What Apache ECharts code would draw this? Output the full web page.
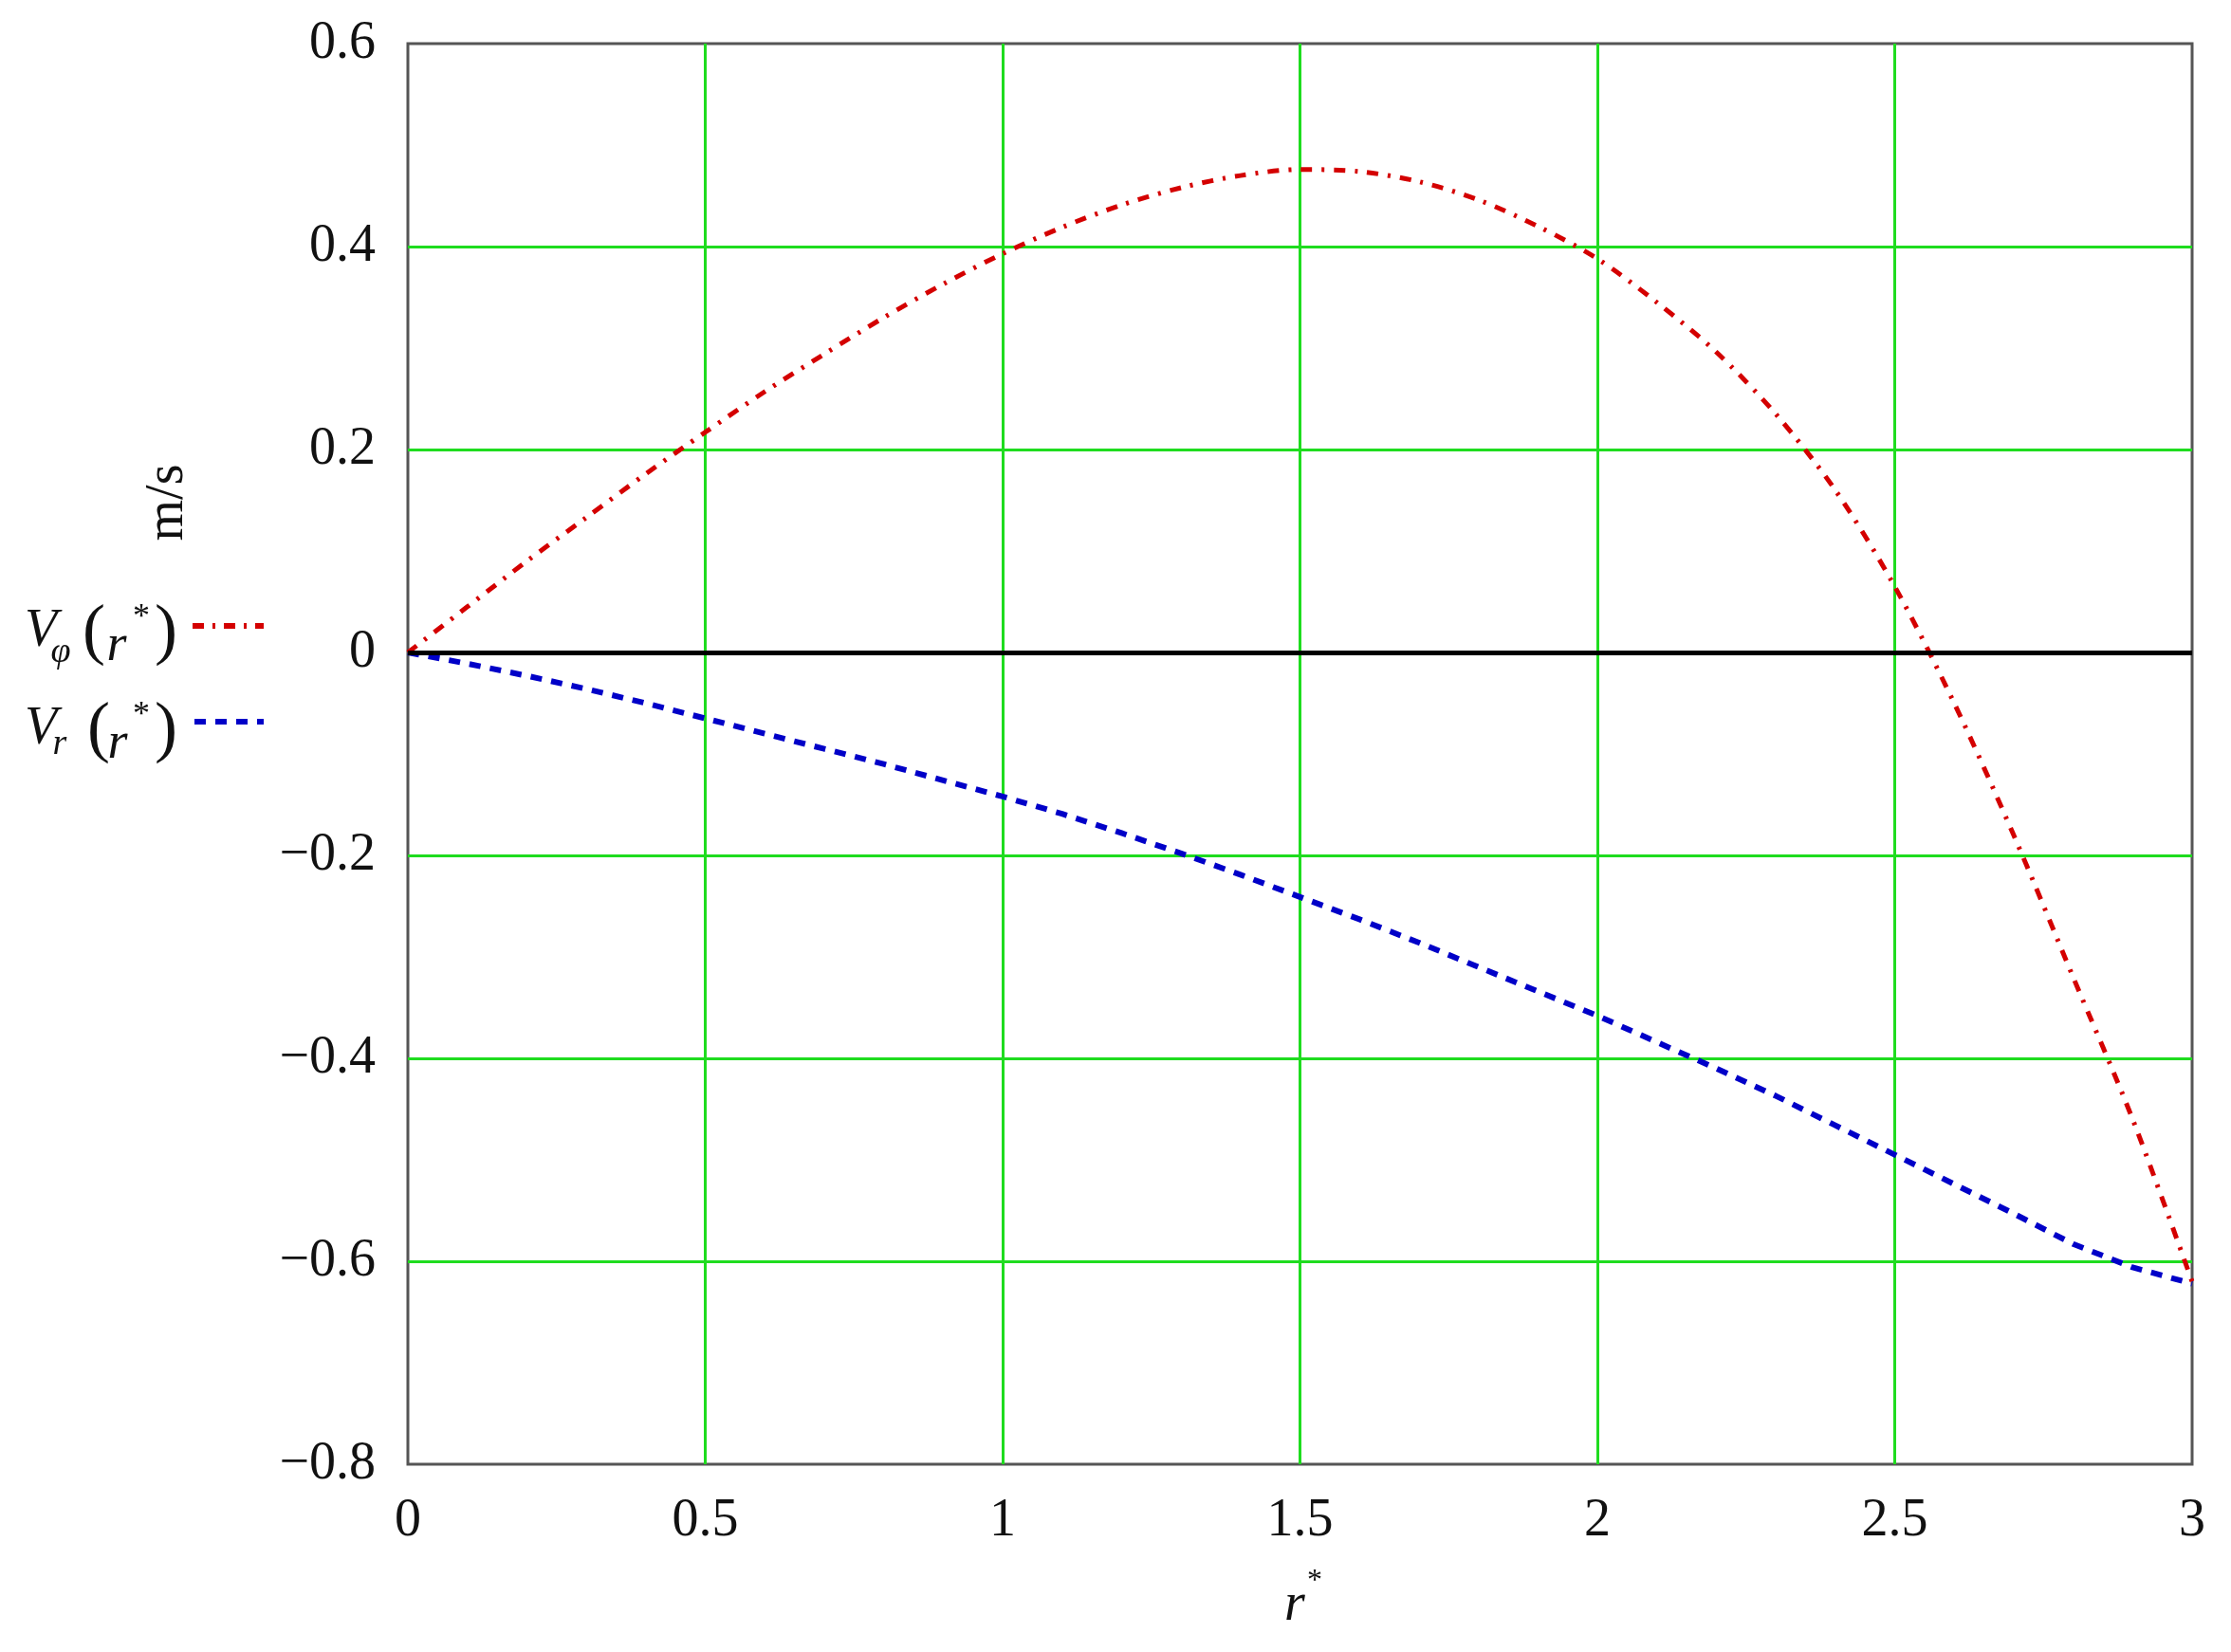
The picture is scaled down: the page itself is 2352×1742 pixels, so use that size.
<!DOCTYPE html>
<html>
<head>
<meta charset="utf-8">
<script src="https://cdn.jsdelivr.net/npm/echarts@6/dist/echarts.min.js"></script>
<style>
html, body { margin: 0; padding: 0; background: #fff; }
#chart { width: 2352px; height: 1742px; }
</style>
</head>
<body>
<div id="chart"></div>
<script>
// r* values
var rVals = [0, 0.1, 0.2, 0.3, 0.4, 0.5, 0.6, 0.7, 0.8, 0.9, 1.0,
             1.1, 1.2, 1.3, 1.4, 1.5, 1.6, 1.7, 1.8, 1.9, 2.0,
             2.1, 2.2, 2.3, 2.4, 2.5, 2.6, 2.7, 2.8, 2.9, 3.0];
// V_phi(r*)
var vPhi = [0, 0.045, 0.09, 0.133, 0.176, 0.217, 0.257, 0.294, 0.330, 0.363, 0.393,
            0.419, 0.441, 0.458, 0.470, 0.476, 0.474, 0.464, 0.446, 0.420, 0.388,
            0.345, 0.296, 0.235, 0.160, 0.065, -0.050, -0.180, -0.320, -0.460, -0.620];
// V_r(r*)
var vR = [0, -0.011, -0.023, -0.036, -0.05, -0.065, -0.08, -0.095, -0.11, -0.126, -0.142,
          -0.159, -0.178, -0.198, -0.219, -0.241, -0.263, -0.286, -0.31, -0.334, -0.358,
          -0.384, -0.41, -0.437, -0.466, -0.495, -0.524, -0.553, -0.583, -0.606, -0.622];

var xTicks = [0, 0.5, 1, 1.5, 2, 2.5, 3];
var yTicks = [-0.8, -0.6, -0.4, -0.2, 0, 0.2, 0.4, 0.6];

function pairs(ys) {
    var out = [];
    for (var i = 0; i < rVals.length; i++) out.push([rVals[i], ys[i]]);
    return out;
}

var serif = '"Liberation Serif", "DejaVu Serif", serif';
var green = '#1fdc1f';
var red = '#d40000';
var blue = '#0000c8';

var myChart = echarts.init(document.getElementById('chart'));

// legend glyphs and axis names
function txt(x, y, s, size, italic) {
    return {
        type: 'text', x: x, y: y, z: 10,
        style: {
            text: s, fill: '#111', font: (italic ? 'italic ' : '') + size + 'px ' + serif,
            align: 'center', verticalAlign: 'middle'
        }
    };
}
var graphics = [
    txt(43, 666, 'V', 56, true),
    txt(64, 688, 'φ', 38, true),
    txt(99, 668, '(', 72, false),
    txt(123, 682, 'r', 54, true),
    txt(149, 652, '*', 36, false),
    txt(175, 668, ')', 72, false),

    txt(43, 769, 'V', 56, true),
    txt(63, 785, 'r', 38, true),
    txt(104, 771, '(', 72, false),
    txt(124, 785, 'r', 54, true),
    txt(149, 755, '*', 36, false),
    txt(175, 771, ')', 72, false),

    {type: 'line', z: 10, shape: {x1: 203, y1: 660, x2: 278, y2: 660},
     style: {stroke: red, lineWidth: 6, lineDash: [12, 9, 3, 9]}},
    {type: 'line', z: 10, shape: {x1: 205, y1: 761, x2: 278, y2: 761},
     style: {stroke: blue, lineWidth: 6, lineDash: [12, 10]}},

    txt(1365, 1693, 'r', 56, true),
    txt(1386, 1668, '*', 32, false),

    {type: 'text', x: 177, y: 530, rotation: Math.PI / 2, z: 10,
     style: {text: 'm/s', fill: '#111', font: '56px ' + serif,
             align: 'center', verticalAlign: 'middle'}}
];

var option = {
    animation: false,
    backgroundColor: '#fff',
    grid: {
        left: 430, right: 41, top: 46, bottom: 198,
        show: true, borderColor: '#555', borderWidth: 3
    },
    xAxis: {
        type: 'value', min: 0, max: 3, interval: 0.5,
        axisLine: {show: false},
        axisTick: {show: false},
        axisLabel: {
            color: '#111', fontFamily: serif, fontSize: 56, margin: 32,
            formatter: function (v) { return String(v); }
        },
        splitLine: {show: true, showMinLine: false, showMaxLine: false,
                    lineStyle: {color: green, width: 3}}
    },
    yAxis: {
        type: 'value', min: -0.8, max: 0.6, interval: 0.2,
        axisLine: {show: false},
        axisTick: {show: false},
        axisLabel: {
            color: '#111', fontFamily: serif, fontSize: 56, margin: 34,
            formatter: function (v) {
                var s = String(Math.round(v * 10) / 10);
                return s.replace('-', '\u2212');
            }
        },
        splitLine: {show: true, showMinLine: false, showMaxLine: false,
                    lineStyle: {color: green, width: 3}}
    },
    graphic: graphics,
    series: [
        {
            name: 'zero', type: 'line', data: [], z: 1,
            markLine: {
                silent: true, symbol: 'none', label: {show: false},
                lineStyle: {color: '#000', width: 5, type: 'solid'},
                data: [{yAxis: 0}]
            }
        },
        {
            name: 'Vr', type: 'line', data: pairs(vR), showSymbol: false, z: 3,
            lineStyle: {color: blue, width: 6, type: [12, 10]}
        },
        {
            name: 'Vphi', type: 'line', data: pairs(vPhi), showSymbol: false, z: 4,
            smooth: 0.3,
            lineStyle: {color: red, width: 5, type: [12, 10, 3, 10]}
        }
    ]
};
myChart.setOption(option);
</script>
</body>
</html>
